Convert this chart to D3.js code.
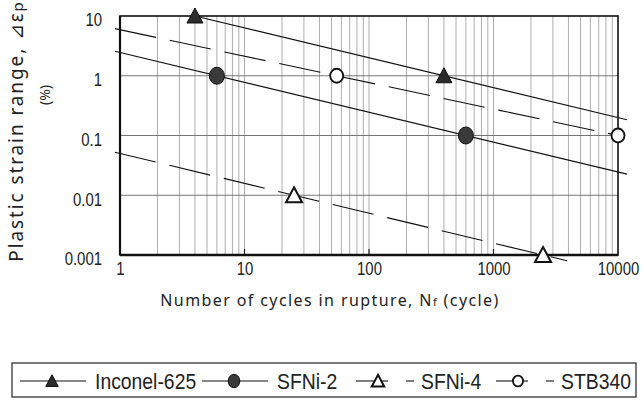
<!DOCTYPE html>
<html>
<head>
<meta charset="utf-8">
<script src="https://cdn.jsdelivr.net/npm/d3@7"></script>
<style>
    body { margin: 0; background: #fff; }
</style>
</head>
<body>
<svg class="fatigue" width="643" height="400"></svg>
<script>
// data: two test points per material
const seriesNames = ["Inconel-625", "SFNi-2", "SFNi-4", "STB340"];
const inconelN = [4, 400];
const inconelEps = [10, 1];
const sfni2N = [6, 600];
const sfni2Eps = [1, 0.1];
const sfni4N = [25, 2500];
const sfni4Eps = [0.01, 0.001];
const stbN = [55, 10000];
const stbEps = [1, 0.1];
// where each fitted line starts / ends (cycles)
const lineStartN = [4, 0.91, 0.91, 0.91];
const lineEndN = [11800, 11800, 3900, 10000];

const xTicks = [1, 10, 100, 1000, 10000];
const yTicks = [0.001, 0.01, 0.1, 1, 10];
const yTickLabels = ["0.001", "0.01", "0.1", "1", "10"];

const pointsN = [inconelN, sfni2N, sfni4N, stbN];
const pointsEps = [inconelEps, sfni2Eps, sfni4Eps, stbEps];
const dashed = [false, false, true, true];
const markerShape = ["triangle", "circle", "triangle", "circle"];
const markerFilled = [true, true, false, false];

const plotLeft = 120, plotRight = 618, plotTop = 16, plotBottom = 255;
const narrow = 0.83;   // the original uses a condensed gothic face
const numFont = "'Liberation Sans', Arial, sans-serif";
const textFont = "'Noto Sans', 'DejaVu Sans', sans-serif";

const svg = d3.select(".fatigue");

const x = d3.scaleLog().domain([1, 10000]).range([plotLeft, plotRight]);
const y = d3.scaleLog().domain([0.001, 10]).range([plotBottom, plotTop]);

// vertical grid (every minor value)
svg.append("g")
    .selectAll("line")
    .data(x.ticks().filter(d => d > 1 && d < 10000))
    .enter().append("line")
    .attr("x1", d => x(d)).attr("x2", d => x(d))
    .attr("y1", plotTop).attr("y2", plotBottom)
    .style("stroke", "#999")
    .style("stroke-width", 0.8);

// horizontal grid at decades
svg.append("g")
    .selectAll("line")
    .data(yTicks.filter(d => d > 0.001 && d < 10))
    .enter().append("line")
    .attr("x1", plotLeft).attr("x2", plotRight)
    .attr("y1", d => y(d)).attr("y2", d => y(d))
    .style("stroke", "#666")
    .style("stroke-width", 0.9);

// short inner ticks on the bottom axis
svg.append("g")
    .selectAll("line")
    .data(xTicks.filter(d => d > 1 && d < 10000))
    .enter().append("line")
    .attr("x1", d => x(d)).attr("x2", d => x(d))
    .attr("y1", plotBottom).attr("y2", plotBottom - 6)
    .style("stroke", "#222")
    .style("stroke-width", 1.2);

// frame
svg.append("rect")
    .attr("x", plotLeft).attr("y", plotTop)
    .attr("width", plotRight - plotLeft).attr("height", plotBottom - plotTop)
    .style("fill", "none")
    .style("stroke", "#111")
    .style("stroke-width", 1.6);
svg.append("line")
    .attr("x1", plotLeft).attr("x2", plotRight)
    .attr("y1", plotBottom).attr("y2", plotBottom)
    .style("stroke", "#111").style("stroke-width", 2.4);
svg.append("line")
    .attr("x1", plotLeft).attr("x2", plotLeft)
    .attr("y1", plotTop).attr("y2", plotBottom)
    .style("stroke", "#111").style("stroke-width", 2.2);

// fitted power-law lines through the two points of each material
const fitLine = d3.line().x(d => x(d[0])).y(d => y(d[1]));
seriesNames.forEach((name, i) => {
    const n = pointsN[i], e = pointsEps[i];
    const b = Math.log10(e[1] / e[0]) / Math.log10(n[1] / n[0]);
    const at = N => e[0] * Math.pow(N / n[0], b);
    svg.append("path")
        .datum([[lineStartN[i], at(lineStartN[i])], [lineEndN[i], at(lineEndN[i])]])
        .attr("d", fitLine)
        .style("fill", "none")
        .style("stroke", "#111")
        .style("stroke-width", 1.1)
        .style("stroke-dasharray", dashed[i] ? "42,14" : null);
});

function drawMarker(g, shape, filled, cx, cy, k) {
    if (shape === "triangle") {
        g.append("path")
            .attr("d", `M${cx},${cy - 8 * k}L${cx + 8 * k},${cy + 7 * k}L${cx - 8 * k},${cy + 7 * k}Z`)
            .style("fill", filled ? "#2b2b2b" : "#fff")
            .style("stroke", "#111")
            .style("stroke-width", filled ? 1 : 2);
    } else {
        g.append("ellipse")
            .attr("cx", cx).attr("cy", cy)
            .attr("rx", (filled ? 7.5 : 6.5) * k).attr("ry", (filled ? 8.5 : 7) * k)
            .style("fill", filled ? "#3a3a3a" : "#fff")
            .style("stroke", "#111")
            .style("stroke-width", filled ? 1 : 1.8);
    }
}

// markers
seriesNames.forEach((name, i) => {
    const g = svg.append("g");
    pointsN[i].forEach((n, j) => {
        drawMarker(g, markerShape[i], markerFilled[i], x(n), y(pointsEps[i][j]), 1);
    });
});

// Y axis labels
const yAxis = svg.append("g")
    .attr("transform", `translate(${plotLeft},0)`)
    .call(d3.axisLeft(y).tickValues(yTicks)
        .tickFormat((d, i) => yTickLabels[i])
        .tickSize(0).tickPadding(18));
yAxis.select(".domain").remove();
yAxis.selectAll(".tick text")
    .attr("x", -18 / narrow)
    .attr("dy", "0.55em")
    .attr("transform", `scale(${narrow},1)`)
    .style("font-size", "18px")
    .style("font-family", numFont)
    .style("fill", "#222");

// X axis labels
const xAxis = svg.append("g")
    .attr("transform", `translate(0,${plotBottom})`)
    .call(d3.axisBottom(x).tickValues(xTicks)
        .tickFormat(d3.format("d"))
        .tickSize(0).tickPadding(7));
xAxis.select(".domain").remove();
xAxis.selectAll(".tick text")
    .attr("transform", `scale(${narrow},1)`)
    .style("font-size", "18px")
    .style("font-family", numFont)
    .style("fill", "#222");

// axis titles
const xTitle = svg.append("text")
    .attr("x", 330)
    .attr("y", 306)
    .attr("text-anchor", "middle")
    .style("font-size", "16px")
    .style("font-family", textFont)
    .style("letter-spacing", "1.4px")
    .style("fill", "#222");
xTitle.append("tspan").text("Number of cycles in rupture, N");
xTitle.append("tspan").style("font-size", "11px").text("f");
xTitle.append("tspan").text(" (cycle)");

const yTitle = svg.append("text")
    .attr("transform", "translate(23,131) rotate(-90)")
    .attr("text-anchor", "middle")
    .style("font-size", "19px")
    .style("font-family", textFont)
    .style("letter-spacing", "1.9px")
    .style("fill", "#222");
yTitle.append("tspan").text("Plastic strain range, ⊿ε");
yTitle.append("tspan").style("font-size", "15px").text("p");

svg.append("text")
    .attr("transform", "translate(50,95) rotate(-90)")
    .attr("text-anchor", "middle")
    .style("font-size", "14px")
    .style("font-family", textFont)
    .style("fill", "#222")
    .text("(%)");

// legend
const legendStart = [20, 202, 356, 496];
const legendNarrow = 0.88;
const legendY = 381;
svg.append("rect")
    .attr("x", 12).attr("y", 363)
    .attr("width", 624).attr("height", 34)
    .style("fill", "#fff")
    .style("stroke", "#222")
    .style("stroke-width", 1.2);

seriesNames.forEach((name, i) => {
    const s = legendStart[i];
    const g = svg.append("g").attr("class", "legend");
    let textX;
    if (!dashed[i]) {
        g.append("line")
            .attr("x1", s).attr("x2", s + 66)
            .attr("y1", legendY).attr("y2", legendY)
            .style("stroke", "#111").style("stroke-width", 1.1);
        drawMarker(g, markerShape[i], markerFilled[i], s + 32, legendY, 0.78);
        textX = s + 75;
    } else {
        g.append("line")
            .attr("x1", s).attr("x2", s + 32)
            .attr("y1", legendY).attr("y2", legendY)
            .style("stroke", "#111").style("stroke-width", 1.1);
        g.append("line")
            .attr("x1", s + 50).attr("x2", s + 58)
            .attr("y1", legendY).attr("y2", legendY)
            .style("stroke", "#111").style("stroke-width", 1.1);
        drawMarker(g, markerShape[i], markerFilled[i], s + 22, legendY, 0.78);
        textX = s + 65;
    }
    g.append("text")
        .attr("transform", `translate(${textX},${legendY}) scale(${legendNarrow},1)`)
        .attr("dy", "0.36em")
        .text(name)
        .style("font-size", "22px")
        .style("font-family", numFont)
        .style("fill", "#222");
});
</script>
</body>
</html>
